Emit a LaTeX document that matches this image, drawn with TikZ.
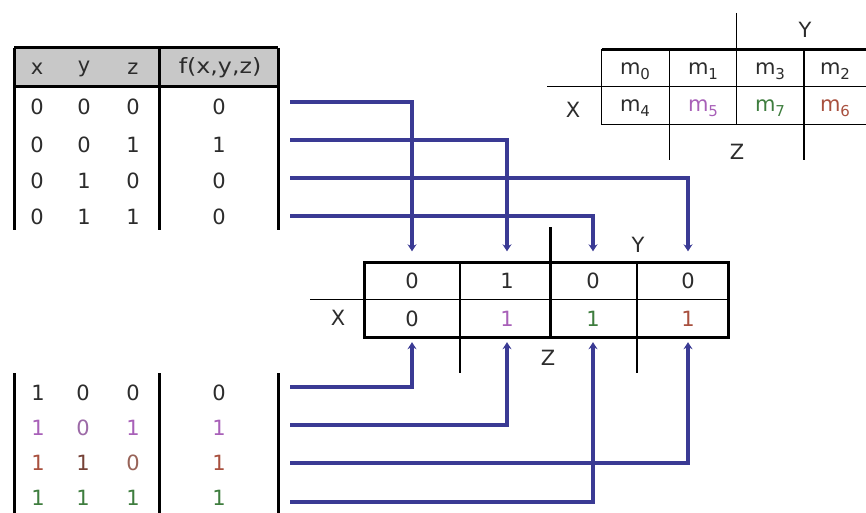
\documentclass[tikz,border=0pt]{standalone}
\usepackage{fontspec}
\setmainfont{DejaVu Sans}
\usetikzlibrary{arrows.meta}
\definecolor{ink}{HTML}{2C2C2C}
\definecolor{pur}{HTML}{A860B8}
\definecolor{grn}{HTML}{3E7D3E}
\definecolor{rd}{HTML}{A8503E}
\definecolor{wire}{HTML}{3A3A94}
\definecolor{hdr}{HTML}{C8C8C8}
\newcommand{\msub}[1]{m\raisebox{-0.45ex}{\fontsize{15}{15}\selectfont #1}}
\begin{document}
\begin{tikzpicture}[x=1pt,y=-1pt,
  txt/.style={font=\fontsize{21}{23}\selectfont, text=ink, inner sep=0pt},
  thickline/.style={line width=3pt, draw=black},
  thinline/.style={line width=1.5pt, draw=black},
  wirearrow/.style={line width=3.4pt, draw=wire, -{Stealth[length=7pt,width=9pt]}},
  cell/.style={txt, minimum width=20pt, minimum height=37pt}
]
\useasboundingbox (0,0) rectangle (866,513);

% ---------- top truth table ----------
\fill[hdr] (14,48) rectangle (278,87);
\draw[thickline] (14,48) -- (278,48);
\draw[thickline] (14,87) -- (278,87);
\draw[thickline] (14,48) -- (14,230);
\draw[thickline] (159,48) -- (159,230);
\draw[thickline] (278,48) -- (278,230);
\node[txt] (hx) at (37,69) {x};
\node[txt] (hy) at (84,69) {y};
\node[txt] (hz) at (133,69) {z};
\node[txt] (hf) at (220,68) {\scalebox{1.13}[1]{f(x,y,z)}};

\node[txt] (a1x) at (37,107) {0}; \node[txt] (a1y) at (84,107) {0}; \node[txt] (a1z) at (133,107) {0}; \node[txt] (a1f) at (219,107) {0};
\node[txt] (a2x) at (37,145) {0}; \node[txt] (a2y) at (84,145) {0}; \node[txt] (a2z) at (133,145) {1}; \node[txt] (a2f) at (219,145) {1};
\node[txt] (a3x) at (37,181) {0}; \node[txt] (a3y) at (84,181) {1}; \node[txt] (a3z) at (133,181) {0}; \node[txt] (a3f) at (219,181) {0};
\node[txt] (a4x) at (37,217) {0}; \node[txt] (a4y) at (84,217) {1}; \node[txt] (a4z) at (133,217) {1}; \node[txt] (a4f) at (219,217) {0};

% ---------- bottom truth table ----------
\draw[thickline] (14,373) -- (14,513);
\draw[thickline] (159,373) -- (159,513);
\draw[thickline] (278,373) -- (278,513);
\node[txt] (b1x) at (38,393) {1}; \node[txt] (b1y) at (83,393) {0}; \node[txt] (b1z) at (133,393) {0}; \node[txt] (b1f) at (219,393) {0};
\node[txt,text=pur] (b2x) at (38,428) {1}; \node[txt,text=pur!70!gray] (b2y) at (83,428) {0}; \node[txt,text=pur] (b2z) at (133,428) {1}; \node[txt,text=pur] (b2f) at (219,428) {1};
\node[txt,text=rd] (b3x) at (38,463) {1}; \node[txt,text=rd!60!ink] (b3y) at (83,463) {1}; \node[txt,text=rd!60!gray] (b3z) at (133,463) {0}; \node[txt,text=rd] (b3f) at (219,463) {1};
\node[txt,text=grn] (b4x) at (38,498) {1}; \node[txt,text=grn] (b4y) at (83,498) {1}; \node[txt,text=grn] (b4z) at (133,498) {1}; \node[txt,text=grn] (b4f) at (219,498) {1};

% ---------- top-right map of minterms ----------
\draw[thinline] (547,86.7) -- (866,86.7);
\draw[thinline] (601.7,49.3) -- (601.7,124.3) -- (866,124.3);
\draw[thinline] (669.3,49.3) -- (669.3,160);
\draw[thinline] (736.7,13) -- (736.7,124.3);
\draw[thinline] (804,49.3) -- (804,160);
\draw[thickline] (601.7,49.3) -- (866,49.3);
\node[txt] (mY) at (805,30) {Y};
\node[txt] (mX) at (573,110) {X};
\node[txt] (mZ) at (737,152) {Z};
\node[txt] (m0) at (635,71) {\msub{0}};
\node[txt] (m1) at (703,71) {\msub{1}};
\node[txt] (m3) at (770,71) {\msub{3}};
\node[txt] (m2) at (835,71) {\msub{2}};
\node[txt] (m4) at (635,108) {\msub{4}};
\node[txt,text=pur] (m5) at (703,108) {\msub{5}};
\node[txt,text=grn] (m7) at (770,108) {\msub{7}};
\node[txt,text=rd] (m6) at (835,108) {\msub{6}};

% ---------- main Karnaugh map ----------
\draw[thinline] (310,299.5) -- (728,299.5);
\draw[thinline] (460,262) -- (460,373);
\draw[thinline] (637,262) -- (637,373);
\draw[thickline] (550,227) -- (550,337);
\draw[thickline] (364,262) rectangle (728,337);
\node[txt] (kX) at (338,318) {X};
\node[txt] (kY) at (638,245) {Y};
\node[txt] (kZ) at (548,358) {Z};

\node[cell] (k0) at (412,281) {0};
\node[cell] (k1) at (507,281) {1};
\node[cell] (k2) at (593,281) {0};
\node[cell] (k3) at (688,281) {0};
\node[cell] (k4) at (412,318.5) {0};
\node[cell,text=pur] (k5) at (507,318.5) {1};
\node[cell,text=grn] (k6) at (593,318.5) {1};
\node[cell,text=rd] (k7) at (688,318.5) {1};

% ---------- connectors ----------
\coordinate (s1) at (290,102);
\coordinate (s2) at (290,140);
\coordinate (s3) at (290,178);
\coordinate (s4) at (290,216);
\coordinate (t1) at (290,387);
\coordinate (t2) at (290,425);
\coordinate (t3) at (290,463);
\coordinate (t4) at (290,502);

\draw[wirearrow] (s1) -| ([yshift=11pt]k0.north);
\draw[wirearrow] (s2) -| ([yshift=11pt]k1.north);
\draw[wirearrow] (s3) -| ([yshift=11pt]k3.north);
\draw[wirearrow] (s4) -| ([yshift=11pt]k2.north);
\draw[wirearrow] (t1) -| ([yshift=-5pt]k4.south);
\draw[wirearrow] (t2) -| ([yshift=-5pt]k5.south);
\draw[wirearrow] (t3) -| ([yshift=-5pt]k7.south);
\draw[wirearrow] (t4) -| ([yshift=-5pt]k6.south);
\end{tikzpicture}
\end{document}
